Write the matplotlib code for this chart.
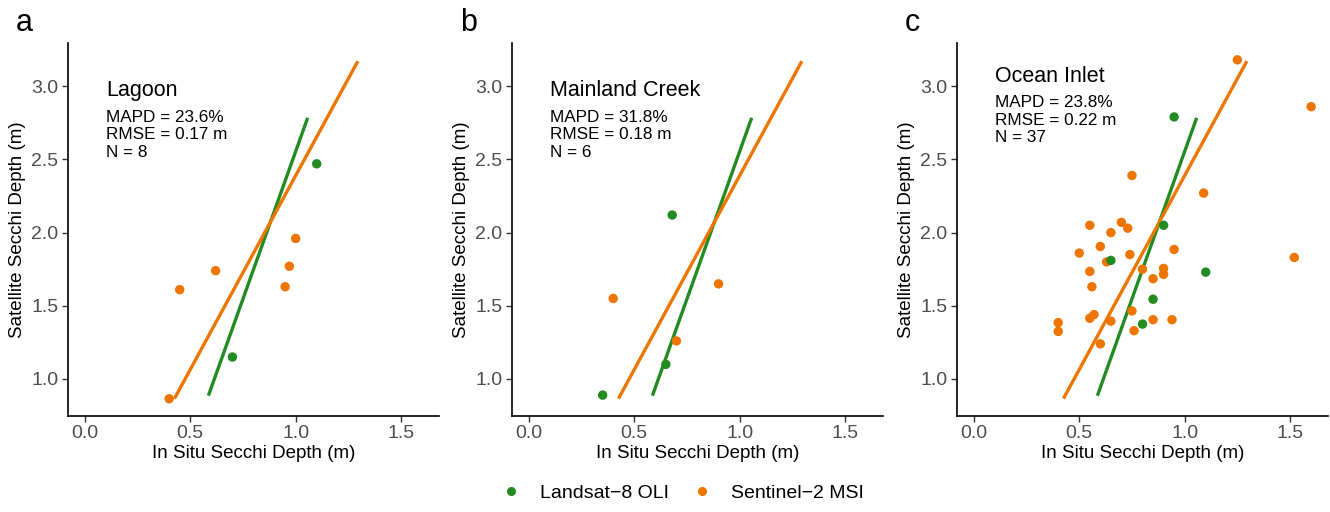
import numpy as np
import matplotlib
matplotlib.use('Agg')
import matplotlib.pyplot as plt
from matplotlib.lines import Line2D

plt.rcParams['font.family'] = ['Liberation Sans', 'DejaVu Sans']

GREEN = '#228B22'
ORANGE = '#EE7600'

# panel names and stats
letters = ['a', 'b', 'c']
sites = ['Lagoon', 'Mainland Creek', 'Ocean Inlet']
mapd = ['23.6%', '31.8%', '23.8%']
rmse = ['0.17 m', '0.18 m', '0.22 m']
n_obs = [8, 6, 37]

# Landsat-8 OLI points (in situ, satellite)
l8_x = [
    [0.70, 1.10],
    [0.35, 0.65, 0.68],
    [0.65, 0.90, 1.10, 0.85, 0.80, 0.95],
]
l8_y = [
    [1.15, 2.47],
    [0.89, 1.10, 2.12],
    [1.81, 2.05, 1.73, 1.545, 1.375, 2.79],
]

# Sentinel-2 MSI points
s2_x = [
    [0.40, 0.45, 0.62, 0.95, 0.97, 1.00],
    [0.40, 0.70, 0.90],
    [0.75, 1.09, 0.55, 0.70, 0.73, 0.65, 0.60, 0.50, 0.74, 0.95,
     0.63, 0.55, 0.80, 0.90, 0.90, 0.85, 0.56, 1.52, 0.75, 0.57,
     0.55, 0.65, 0.85, 0.94, 0.40, 0.40, 0.76, 0.60, 1.25, 1.60],
]
s2_y = [
    [0.865, 1.61, 1.74, 1.63, 1.77, 1.96],
    [1.55, 1.26, 1.65],
    [2.39, 2.27, 2.05, 2.07, 2.03, 2.00, 1.905, 1.86, 1.85, 1.885,
     1.80, 1.735, 1.75, 1.755, 1.715, 1.685, 1.63, 1.83, 1.465, 1.44,
     1.415, 1.395, 1.405, 1.405, 1.385, 1.325, 1.33, 1.24, 3.18, 2.86],
]

# fitted lines (same in every panel): x range and y at the ends
l8_fit_x = [0.586, 1.057]
l8_fit_y = [0.886, 2.784]
s2_fit_x = [0.425, 1.295]
s2_fit_y = [0.866, 3.171]

title_y = [2.93, 2.93, 3.03]
stats_y = [2.84, 2.84, 2.94]

fig = plt.figure(figsize=(13.3, 5.12), dpi=100)
lefts = [68, 512, 957]
for i in range(3):
    ax = fig.add_axes([lefts[i] / 1330, (512 - 415.6) / 512, 371 / 1330, 372.6 / 512])
    ax.plot(l8_fit_x, l8_fit_y, color=GREEN, lw=2.4, solid_capstyle='butt', zorder=2)
    ax.plot(s2_fit_x, s2_fit_y, color=ORANGE, lw=2.4, solid_capstyle='butt', zorder=2)
    ax.scatter(s2_x[i], s2_y[i], s=46, color=ORANGE, edgecolors='none', zorder=3)
    ax.scatter(l8_x[i], l8_y[i], s=46, color=GREEN, edgecolors='none', zorder=3)
    ax.set_xlim(-0.08, 1.68)
    ax.set_ylim(0.75, 3.295)
    ax.set_xticks([0.0, 0.5, 1.0, 1.5])
    ax.set_yticks([1.0, 1.5, 2.0, 2.5, 3.0])
    ax.set_xticklabels(['0.0', '0.5', '1.0', '1.5'])
    ax.set_yticklabels(['1.0', '1.5', '2.0', '2.5', '3.0'])
    ax.tick_params(labelsize=14, labelcolor='#4D4D4D', color='#333333',
                   length=4, width=1, pad=3)
    for s in ['top', 'right']:
        ax.spines[s].set_visible(False)
    for s in ['left', 'bottom']:
        ax.spines[s].set_linewidth(1.2)
    ax.set_xlabel('In Situ Secchi Depth (m)', fontsize=13.5, labelpad=2)
    ax.set_ylabel('Satellite Secchi Depth (m)', fontsize=13.5, labelpad=4)
    ax.text(0.1, title_y[i], sites[i], fontsize=15.5, va='baseline', ha='left')
    ax.text(0.1, stats_y[i], 'MAPD = %s\nRMSE = %s\nN = %d' % (mapd[i], rmse[i], n_obs[i]),
            fontsize=12.3, va='top', ha='left', linespacing=1.22)
    fig.text((lefts[i] - 52) / 1330, 1 - 23 / 512, letters[i], fontsize=22,
             va='center', ha='left')

handles = [Line2D([], [], marker='o', ls='none', color=GREEN, markersize=5.5),
           Line2D([], [], marker='o', ls='none', color=ORANGE, markersize=5.5)]
fig.legend(handles, ['Landsat\u22128 OLI', 'Sentinel\u22122 MSI'], loc='center',
           bbox_to_anchor=(678 / 1330, 1 - 493 / 512), ncol=2, frameon=False, fontsize=14,
           handletextpad=0.5, columnspacing=0.7)

fig.savefig('out.png', dpi=100)
